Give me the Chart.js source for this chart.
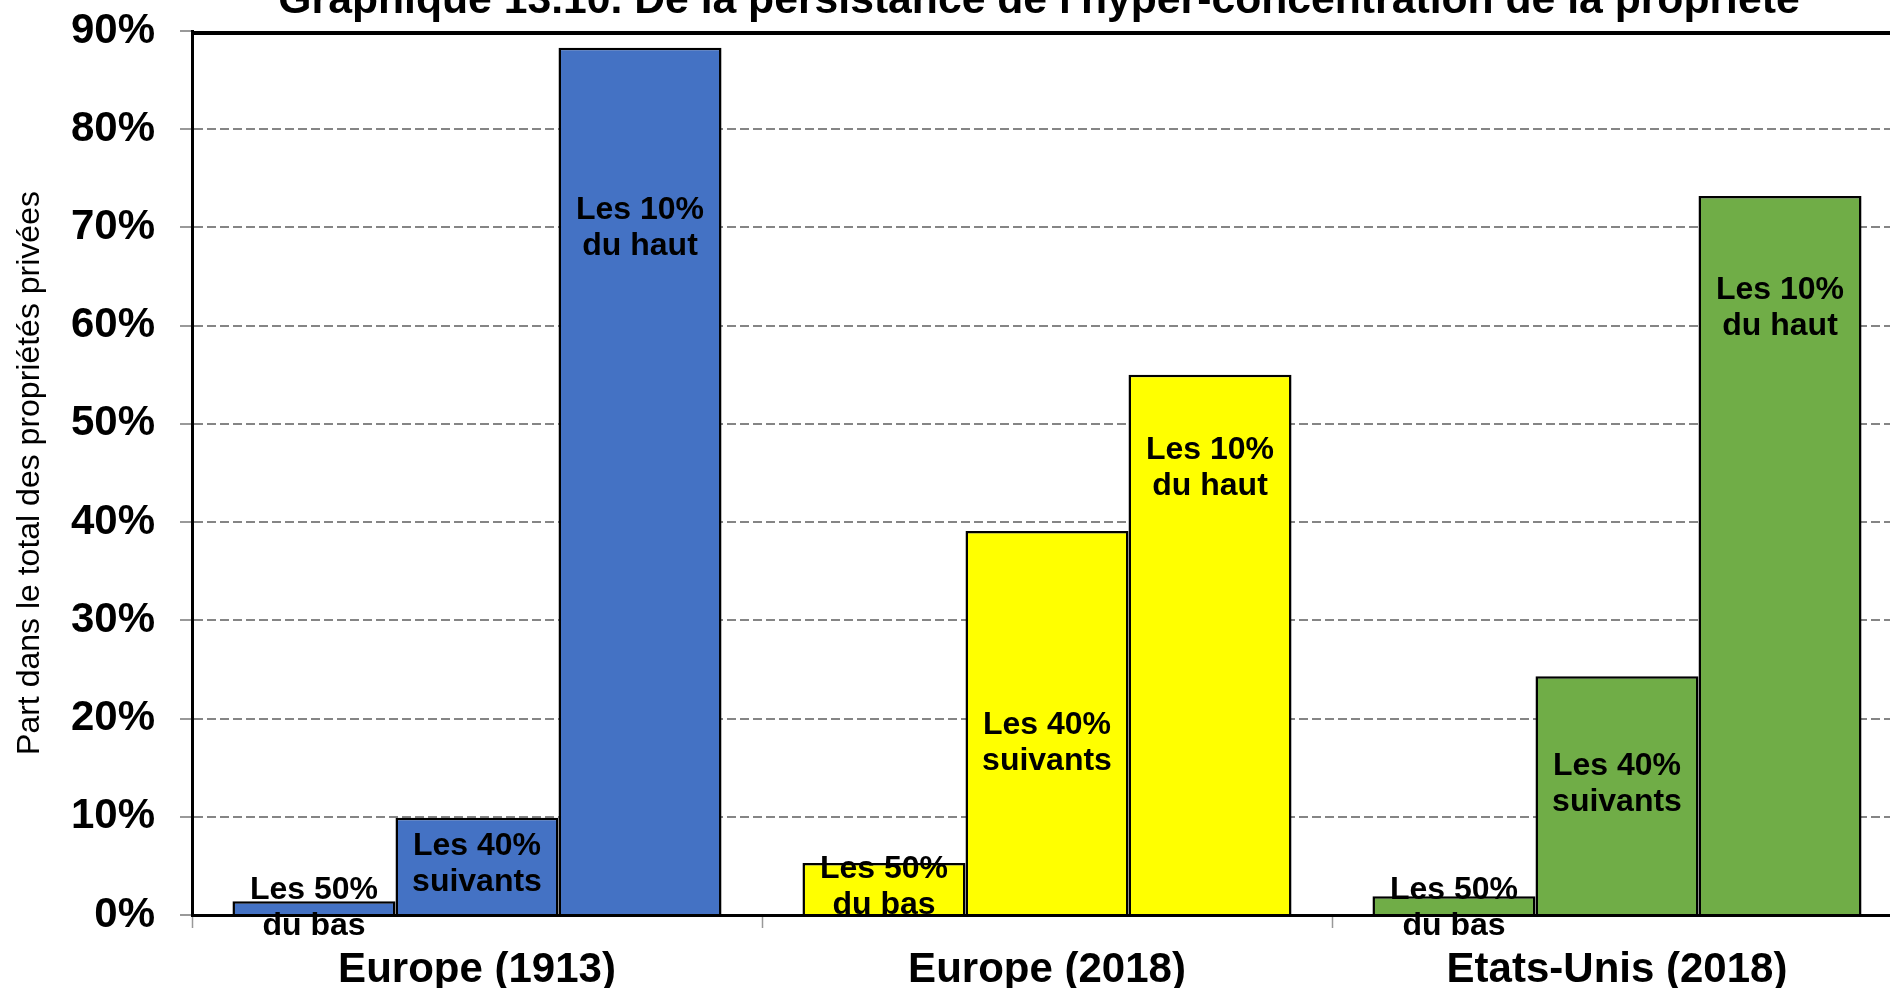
<!DOCTYPE html>
<html lang="fr">
<head>
<meta charset="utf-8">
<title>Graphique 13.10</title>
<script src="https://cdn.jsdelivr.net/npm/chart.js@4.4.1/dist/chart.umd.min.js"></script>
<style>
  html, body { margin: 0; padding: 0; background: #fff; overflow: hidden; }
  #cadre { width: 1910px; height: 988px; }
</style>
</head>
<body>
<div id="cadre"><canvas id="graphique" width="1910" height="988"></canvas></div>
<script>
const titre = "Graphique 13.10. De la persistance de l'hyper-concentration de la propriété";
const titreAxeY = 'Part dans le total des propriétés privées';
const categories = ['Europe (1913)', 'Europe (2018)', 'Etats-Unis (2018)'];
const groupes = [['Les 50%', 'du bas'], ['Les 40%', 'suivants'], ['Les 10%', 'du haut']];
const bas50 = [1.4, 5.3, 1.9];
const suivants40 = [9.9, 39.1, 24.3];
const haut10 = [88.3, 55.0, 73.2];
const ticksY = [0, 10, 20, 30, 40, 50, 60, 70, 80, 90];
const couleurs = ['#4472C4', '#FFFF00', '#70AD47'];

// decalage vertical (px) des etiquettes par rapport au haut de chaque barre
const decalages = [[-13, 4, -8], [26, 192, 88], [160, 73, 92]];

const police = '"Liberation Sans", Arial, sans-serif';

const etiquettes = {
  id: 'etiquettes',
  afterDatasetsDraw(chart) {
    const ctx = chart.ctx;
    ctx.save();
    ctx.font = 'bold 32px ' + police;
    ctx.fillStyle = '#000';
    ctx.textAlign = 'center';
    ctx.textBaseline = 'alphabetic';
    chart.data.datasets.forEach((ds, i) => {
      chart.getDatasetMeta(i).data.forEach((barre, j) => {
        const y = barre.y + decalages[i][j] + 11;
        ctx.fillText(groupes[i][0], barre.x, y);
        ctx.fillText(groupes[i][1], barre.x, y + 36);
      });
    });
    ctx.restore();
  }
};

const bordure = {
  id: 'bordure',
  afterDraw(chart) {
    const { ctx, chartArea } = chart;
    ctx.save();
    ctx.strokeStyle = '#000';
    ctx.lineWidth = 4;
    ctx.beginPath();
    ctx.moveTo(chartArea.left - 1, chartArea.top + 2);
    ctx.lineTo(chartArea.right, chartArea.top + 2);
    ctx.stroke();
    ctx.font = 'bold 42.7px ' + police;
    ctx.fillStyle = '#000';
    ctx.textAlign = 'center';
    ctx.textBaseline = 'alphabetic';
    ctx.fillText(titre, (chartArea.left + chartArea.right) / 2 - 8, 13);
    ctx.restore();
  }
};

new Chart(document.getElementById('graphique'), {
  type: 'bar',
  data: {
    labels: categories,
    datasets: [bas50, suivants40, haut10].map((valeurs, i) => ({
      label: groupes[i].join(' '),
      data: valeurs,
      backgroundColor: couleurs,
      borderColor: '#000',
      borderWidth: 2.5,
      categoryPercentage: 0.858,
      barPercentage: 1.0
    }))
  },
  options: {
    responsive: false,
    animation: false,
    devicePixelRatio: 1,
    layout: { padding: { top: 31, right: 8, left: 0, bottom: 0 } },
    scales: {
      x: {
        afterFit(scale) { scale.height = 73; },
        grid: { drawOnChartArea: false, tickLength: 13, tickColor: '#999', tickWidth: 1.5 },
        border: { color: '#000', width: 3 },
        ticks: {
          color: '#000',
          padding: 17,
          font: { family: police, size: 42, weight: 'bold' }
        }
      },
      y: {
        min: 0,
        max: 90,
        afterFit(scale) {
          scale.width = 192;
          scale.paddingTop = 0;
          scale.paddingBottom = 0;
        },
        afterBuildTicks(scale) { scale.ticks = ticksY.map(v => ({ value: v })); },
        grid: {
          color: c => (c.tick && (c.tick.value === 0 || c.tick.value === 90)) ? 'rgba(0,0,0,0)' : '#858585',
          lineWidth: 2,
          tickColor: '#999',
          tickLength: 12,
          tickWidth: 2
        },
        border: { color: '#000', width: 3, dash: [9, 4] },
        ticks: {
          color: '#000',
          padding: 25,
          font: { family: police, size: 42, weight: 'bold' },
          callback: v => v + '%'
        },
        title: {
          display: true,
          text: titreAxeY,
          color: '#000',
          padding: { top: 11, bottom: 0 },
          font: { family: police, size: 32, weight: 'normal' }
        }
      }
    },
    plugins: {
      legend: { display: false },
      tooltip: { enabled: false }
    }
  },
  plugins: [etiquettes, bordure]
});
</script>
</body>
</html>
